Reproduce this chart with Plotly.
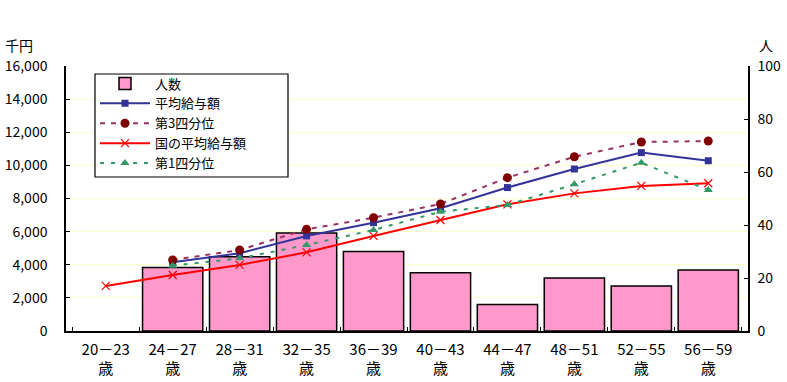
import plotly.graph_objects as go

categories = ["20－23<br>歳", "24－27<br>歳", "28－31<br>歳", "32－35<br>歳", "36－39<br>歳",
              "40－43<br>歳", "44－47<br>歳", "48－51<br>歳", "52－55<br>歳", "56－59<br>歳"]
persons = [None, 24, 28, 37, 30, 22, 10, 20, 17, 23]
avg_pay = [None, 4150, 4690, 5740, 6540, 7410, 8660, 9780, 10770, 10280]
q3 = [None, 4290, 4890, 6140, 6840, 7670, 9260, 10520, 11410, 11470]
national_avg = [2720, 3380, 3990, 4750, 5740, 6700, 7650, 8310, 8760, 8920]
q1 = [None, 3940, 4390, 5190, 6100, 7200, 7610, 8860, 10160, 8510]

left_ticks = [0, 2000, 4000, 6000, 8000, 10000, 12000, 14000, 16000]
left_labels = ["0", "2,000", "4,000", "6,000", "8,000", "10,000", "12,000", "14,000", "16,000"]
right_ticks = [0, 20, 40, 60, 80, 100]

FONT = "Noto Sans CJK JP"

# plot area in pixels (for converting layout positions to paper coords)
PL, PR, PT, PB = 66, 748, 66, 331
def px_x(x):
    return (x - PL) / (PR - PL)
def px_y(y):
    return (PB - y) / (PB - PT)

fig = go.Figure()
fig.add_trace(go.Bar(x=categories, y=persons, name="人数", yaxis="y",
                     marker=dict(color="#FF99CC", line=dict(color="black", width=1.5))))
fig.add_trace(go.Scatter(x=categories, y=avg_pay, name="平均給与額", yaxis="y2", mode="lines+markers",
                         line=dict(color="#333399", width=2),
                         marker=dict(symbol="square", size=7, color="#333399")))
fig.add_trace(go.Scatter(x=categories, y=q3, name="第3四分位", yaxis="y2", mode="lines+markers",
                         line=dict(color="#993366", width=2, dash="5px,6px"),
                         marker=dict(symbol="circle", size=9, color="#800000")))
fig.add_trace(go.Scatter(x=categories, y=national_avg, name="国の平均給与額", yaxis="y2",
                         mode="lines+markers",
                         line=dict(color="#FF0000", width=2),
                         marker=dict(symbol="x-thin", size=8, color="#FF0000",
                                     line=dict(color="#FF0000", width=1.2))))
fig.add_trace(go.Scatter(x=categories, y=q1, name="第1四分位", yaxis="y2", mode="lines+markers",
                         line=dict(color="#339966", width=2, dash="4px,7px"),
                         marker=dict(symbol="triangle-up", size=8, color="#339966")))

fig.update_layout(
    width=787, height=382,
    margin=dict(l=66, r=39, t=66, b=51, autoexpand=False),
    paper_bgcolor="white", plot_bgcolor="white",
    font=dict(family=FONT, size=13, color="black"),
    bargap=0.1,
    showlegend=True,
    legend=dict(x=px_x(95), y=px_y(68.5), xanchor="left", yanchor="top",
                bgcolor="rgba(0,0,0,0)", borderwidth=0,
                font=dict(family=FONT, size=13), tracegroupgap=0,
                itemwidth=50),
    xaxis=dict(type="category", showline=True, linecolor="black", linewidth=1.5,
               ticks="inside", ticklen=4, tickson="boundaries", tickcolor="black",
               showgrid=False, tickfont=dict(size=15), ticklabelstandoff=4),
    yaxis=dict(side="right", range=[0, 100], tickvals=right_ticks, showline=True,
               linecolor="black", linewidth=1.5, ticks="inside", ticklen=4, tickcolor="black",
               showgrid=False, zeroline=False, tickfont=dict(size=14), ticklabelstandoff=5),
    yaxis2=dict(side="left", overlaying="y", range=[0, 16000], tickvals=left_ticks,
                ticktext=left_labels, showline=True, linecolor="black", linewidth=1.5,
                ticks="inside", ticklen=4, tickcolor="black",
                showgrid=True, gridcolor="#FFFFCC", gridwidth=1, zeroline=False,
                tickfont=dict(size=14), ticklabelstandoff=14),
    shapes=[dict(type="rect", xref="paper", yref="paper",
                 x0=px_x(95), x1=px_x(288), y0=px_y(177), y1=px_y(74),
                 fillcolor="white", line=dict(color="black", width=1.2), layer="above")],
)
fig.add_annotation(text="千円", x=px_x(19), y=px_y(45), xref="paper", yref="paper",
                   showarrow=False, xanchor="center", yanchor="middle", font=dict(size=14))
fig.add_annotation(text="人", x=px_x(766), y=px_y(45), xref="paper", yref="paper",
                   showarrow=False, xanchor="center", yanchor="middle", font=dict(size=14))

fig.write_html("out.html", config={"displayModeBar": False},
               post_script="document.body.style.margin='0';")
